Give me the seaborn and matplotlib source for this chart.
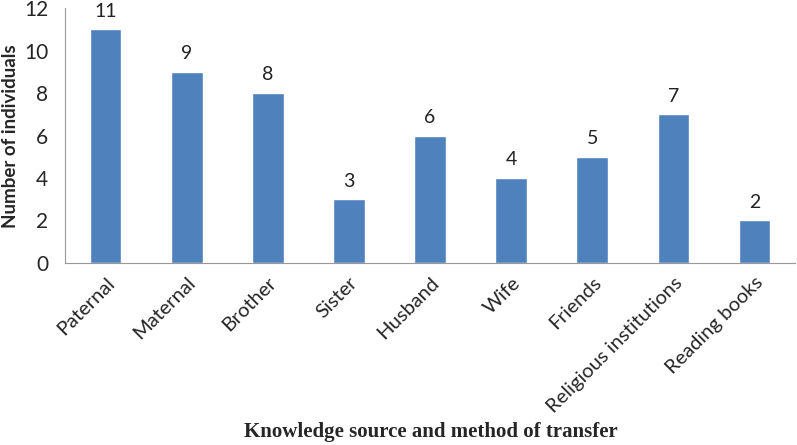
import matplotlib
matplotlib.use("Agg")
import matplotlib.pyplot as plt
import seaborn as sns
import pandas as pd

# ─────────────────────────────────────────────
# DATA
# ─────────────────────────────────────────────
sources = ["Paternal", "Maternal", "Brother", "Sister", "Husband", "Wife",
           "Friends", "Religious institutions", "Reading books"]
counts = [11, 9, 8, 3, 6, 4, 5, 7, 2]
y_ticks = [0, 2, 4, 6, 8, 10, 12]

df = pd.DataFrame({"source": sources, "count": counts})

sns.set_style("white")
plt.rcParams['font.family'] = ['Lato', 'DejaVu Sans']

fig = plt.figure(figsize=(7.97, 4.45), dpi=100)
ax = fig.add_axes([0.0816, 0.409, 0.916, 0.573])

sns.barplot(data=df, x="source", y="count", color="#4F81BD", width=0.39,
            saturation=1, ax=ax)

for i, v in enumerate(counts):
    ax.annotate(str(v), (i, v), xytext=(0, 7), textcoords="offset points",
                ha="center", va="bottom", fontsize=14, color="#222222")

ax.set_ylim(0, 12)
ax.set_yticks(y_ticks)
ax.set_xlim(-0.5, len(sources) - 0.5)
ax.tick_params(axis="y", labelsize=15, length=0, pad=12)
ax.tick_params(axis="x", labelsize=14.5, length=0, pad=8)
plt.setp(ax.get_xticklabels(), rotation=45, ha="right", rotation_mode="anchor")

for s in ["top", "right"]:
    ax.spines[s].set_visible(False)
ax.spines["left"].set_color("#999999")
ax.spines["bottom"].set_color("#999999")

ax.set_ylabel("")
fig.text(0.013, 0.695, "Number of individuals", rotation=90,
         ha="center", va="center", fontsize=13.5, fontweight="bold")
ax.set_xlabel("")
fig.text(0.54, 0.03, "Knowledge source and method of transfer",
         ha="center", va="center", fontsize=15, fontweight="bold",
         family=["Liberation Serif"])

fig.savefig("out.png", dpi=100)
